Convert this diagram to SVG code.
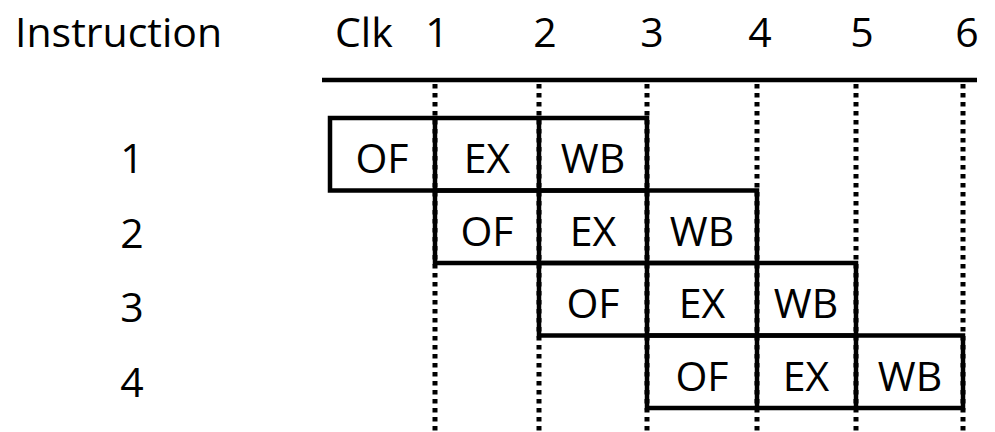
<svg xmlns="http://www.w3.org/2000/svg" width="995" height="432" viewBox="0 0 995 432">
<style>
text{font-family:"Open Sans","DejaVu Sans",sans-serif;font-size:41px;fill:#000}
.c{text-anchor:middle}
.box{fill:none;stroke:#000;stroke-width:4.5}
.dot{stroke:#000;stroke-width:5;stroke-dasharray:4.5 4.5;fill:none}
</style>
<rect width="995" height="432" fill="#fff"/>
<g id="header">
<text x="15" y="47">Instruction</text>
<text x="335" y="47">Clk</text>
<text class="c" x="437" y="47">1</text>
<text class="c" x="545" y="47">2</text>
<text class="c" x="652" y="47">3</text>
<text class="c" x="760" y="47">4</text>
<text class="c" x="862" y="47">5</text>
<text class="c" x="967" y="47">6</text>
<line x1="322" y1="80" x2="977" y2="80" stroke="#000" stroke-width="4.5"/>
</g>
<g id="grid">
<line class="dot" x1="435" y1="84" x2="435" y2="432"/>
<line class="dot" x1="539" y1="84" x2="539" y2="432"/>
<line class="dot" x1="647" y1="84" x2="647" y2="432"/>
<line class="dot" x1="757" y1="84" x2="757" y2="432"/>
<line class="dot" x1="856" y1="84" x2="856" y2="432"/>
<line class="dot" x1="963" y1="84" x2="963" y2="432"/>
</g>
<g id="instr1">
<text class="c" x="132" y="173">1</text>
<rect class="box" x="330" y="118" width="317" height="72.5"/>
<line class="box" x1="435" y1="118" x2="435" y2="190.5"/>
<line class="box" x1="539" y1="118" x2="539" y2="190.5"/>
<text class="c" x="382" y="173">OF</text>
<text class="c" x="487" y="173">EX</text>
<text class="c" x="593" y="173">WB</text>
</g>
<g id="instr2">
<text class="c" x="132" y="248">2</text>
<rect class="box" x="435" y="190.5" width="322" height="72.5"/>
<line class="box" x1="539" y1="190.5" x2="539" y2="263"/>
<line class="box" x1="647" y1="190.5" x2="647" y2="263"/>
<text class="c" x="487" y="246">OF</text>
<text class="c" x="593" y="246">EX</text>
<text class="c" x="702" y="246">WB</text>
</g>
<g id="instr3">
<text class="c" x="132" y="322">3</text>
<rect class="box" x="539" y="263" width="317" height="72.5"/>
<line class="box" x1="647" y1="263" x2="647" y2="335.5"/>
<line class="box" x1="757" y1="263" x2="757" y2="335.5"/>
<text class="c" x="593" y="318">OF</text>
<text class="c" x="702" y="318">EX</text>
<text class="c" x="806" y="318">WB</text>
</g>
<g id="instr4">
<text class="c" x="132" y="397">4</text>
<rect class="box" x="647" y="335.5" width="316" height="72.5"/>
<line class="box" x1="757" y1="335.5" x2="757" y2="408"/>
<line class="box" x1="856" y1="335.5" x2="856" y2="408"/>
<text class="c" x="702" y="391">OF</text>
<text class="c" x="806" y="391">EX</text>
<text class="c" x="910" y="391">WB</text>
</g>
</svg>
